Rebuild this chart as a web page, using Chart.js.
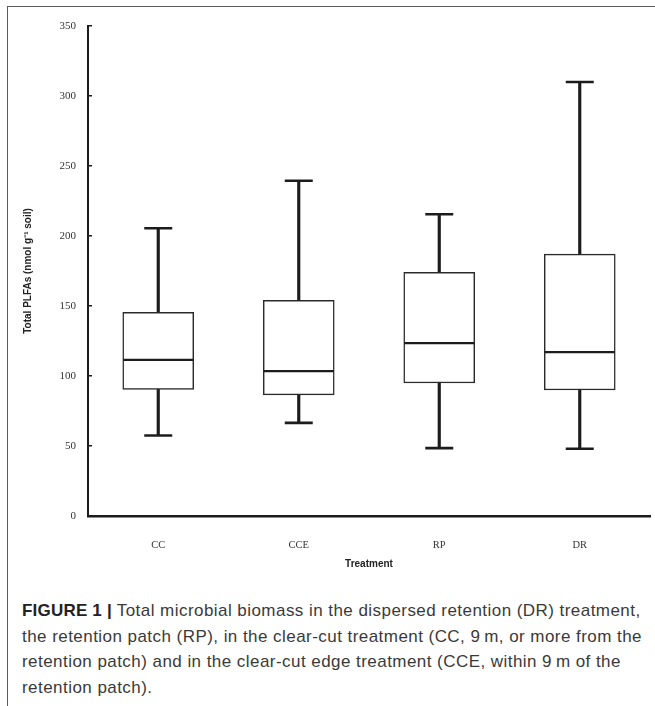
<!DOCTYPE html>
<html>
<head>
<meta charset="utf-8">
<script src="https://cdn.jsdelivr.net/npm/chart.js@4.4.1/dist/chart.umd.min.js"></script>
<style>
  html, body { margin: 0; padding: 0; background: #fff; }
  body { width: 655px; height: 706px; position: relative; overflow: hidden; }
  #frame { position: absolute; left: 7px; top: 6px; width: 660px; height: 710px;
           border-top: 1.5px solid #5a5a5a; border-left: 1.5px solid #5a5a5a; }
  #chartBox { position: absolute; left: 0; top: 0; width: 655px; height: 580px; }
  #caption { position: absolute; left: 22px; top: 598px; white-space: nowrap;
             font-family: "Liberation Sans", Arial, sans-serif; font-size: 17px;
             letter-spacing: 0.45px; line-height: 25.7px; color: #3a3a3a; }
  #caption b { color: #222; letter-spacing: 0.2px; }
</style>
</head>
<body>
<div id="frame"></div>
<div id="chartBox"><canvas id="myChart" width="655" height="580"></canvas></div>
<div id="caption"><b>FIGURE 1 |</b> Total microbial biomass in the dispersed retention (DR) treatment,<br>the retention patch (RP), in the clear-cut treatment (CC, 9&#8201;m, or more from the<br>retention patch) and in the clear-cut edge treatment (CCE, within 9&#8201;m of the<br>retention patch).</div>

<script>
// box plot values (nmol g-1 soil)
const treatments = ["CC", "CCE", "RP", "DR"];
const whiskerLow = [57.5, 66.5, 48.5, 48];
const quartile1 = [90.5, 86.5, 95, 90];
const medians = [111.5, 103.5, 123.5, 117];
const quartile3 = [145.5, 154, 174, 187];
const whiskerHigh = [205.5, 239.5, 215.5, 310];
const yTicks = [0, 50, 100, 150, 200, 250, 300, 350];

const ink = "#1c1c1c";

// floating bars: [low, high] per treatment
const whiskerRanges = treatments.map((t, i) => [whiskerLow[i], whiskerHigh[i]]);
const boxRanges = treatments.map((t, i) => [quartile1[i], quartile3[i]]);

const ctx = document.getElementById("myChart").getContext("2d");
const myChart = new Chart(ctx, {
  data: {
    labels: treatments,
    datasets: [
      {
        // median line
        type: "line",
        data: medians,
        showLine: false,
        pointStyle: "line",
        pointRadius: 35,
        pointHoverRadius: 35,
        pointBorderWidth: 2.2,
        pointBorderColor: ink,
        order: 0
      },
      {
        // upper caps
        type: "line",
        data: whiskerHigh,
        showLine: false,
        pointStyle: "line",
        pointRadius: 14,
        pointHoverRadius: 14,
        pointBorderWidth: 2.6,
        pointBorderColor: ink,
        order: 1
      },
      {
        // lower caps
        type: "line",
        data: whiskerLow,
        showLine: false,
        pointStyle: "line",
        pointRadius: 14,
        pointHoverRadius: 14,
        pointBorderWidth: 2.6,
        pointBorderColor: ink,
        order: 1
      },
      {
        // the boxes
        type: "bar",
        data: boxRanges,
        backgroundColor: "#ffffff",
        borderColor: "#2a2a2a",
        borderWidth: 1.5,
        borderSkipped: false,
        barThickness: 71,
        grouped: false,
        order: 2
      },
      {
        // whisker stems
        type: "bar",
        data: whiskerRanges,
        backgroundColor: ink,
        borderWidth: 0,
        barThickness: 2.5,
        grouped: false,
        order: 3
      }
    ]
  },
  options: {
    responsive: false,
    animation: false,
    layout: { autoPadding: false, padding: { top: 26, right: 5, left: 0, bottom: 0 } },
    plugins: {
      legend: { display: false },
      tooltip: { enabled: false }
    },
    scales: {
      x: {
        type: "category",
        offset: true,
        grid: { display: false },
        border: { display: true, color: ink, width: 2.5 },
        ticks: {
          color: "#333",
          padding: 15,
          font: { family: "'Liberation Serif', 'Times New Roman', serif", size: 10.5 }
        },
        title: {
          display: true,
          text: "Treatment",
          color: "#222",
          padding: { top: 0, bottom: 10 },
          font: { family: "'Liberation Sans', Arial, sans-serif", size: 10, weight: "bold" }
        },
        afterFit: function (scale) { scale.height = 64; }
      },
      y: {
        min: 0,
        max: 350,
        afterBuildTicks: function (scale) {
          scale.ticks = yTicks.map(v => ({ value: v }));
        },
        grid: {
          drawOnChartArea: false,
          drawTicks: true,
          tickLength: -4,
          color: ink,
          lineWidth: 1.5
        },
        border: { display: true, color: ink, width: 2 },
        ticks: {
          color: "#333",
          padding: 16,
          font: { family: "'Liberation Serif', 'Times New Roman', serif", size: 11 }
        },
        title: {
          display: true,
          text: "Total PLFAs (nmol g\u207B\u00B9 soil)",
          color: "#222",
          padding: { top: 22, bottom: 0 },
          font: { family: "'Liberation Sans', Arial, sans-serif", size: 10, weight: "bold" }
        },
        afterFit: function (scale) { scale.width = 88; }
      }
    }
  }
});
</script>
</body>
</html>
